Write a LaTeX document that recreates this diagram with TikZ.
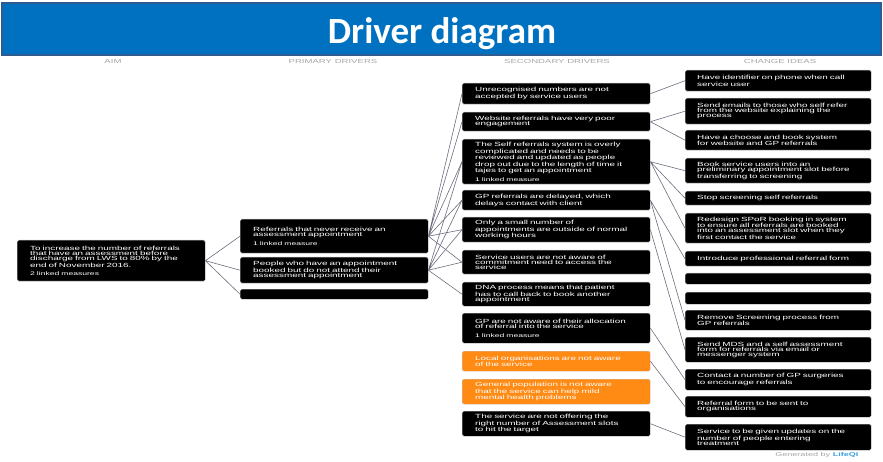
\documentclass[tikz,border=0pt]{standalone}
\usepackage{fontspec}
\newfontfamily\boxfont[FakeStretch=1.65]{Liberation Sans}
\newfontfamily\titlefont{Carlito}
\definecolor{barblue}{HTML}{0070C0}
\definecolor{baredge}{HTML}{2F5C8F}
\definecolor{qiorange}{HTML}{FF8A14}
\definecolor{linkgrey}{HTML}{6C6C7E}
\definecolor{headgrey}{HTML}{A6A6A6}
\definecolor{lqblue}{HTML}{3AA0E0}
\newcommand{\dtxt}{\boxfont\fontsize{6}{5.2}\selectfont}
\newcommand{\msr}{\fontsize{5.2}{5}\selectfont}

\begin{document}
\begin{tikzpicture}[x=1pt,y=-1pt]
\tikzstyle{dbox}=[rectangle, anchor=north west, fill=black, draw=gray!45,
  line width=0.4pt, rounded corners=1.5pt, text=white, font=\dtxt,
  align=left, text width=162pt, inner xsep=13pt, inner ysep=1pt]
\tikzstyle{idea}=[dbox, text width=162pt, inner xsep=12pt]
\tikzstyle{warn}=[dbox, fill=qiorange]
\tikzstyle{head}=[anchor=base, font=\boxfont\fontsize{5.8}{6}\selectfont, text=headgrey]
\tikzstyle{link}=[draw=linkgrey, line width=0.6pt]
\useasboundingbox (0,0) rectangle (883,462);
\fill[barblue, draw=baredge, line width=1.2pt] (2,3) rectangle (881,55);
\node[anchor=base, font=\titlefont\bfseries\fontsize{37}{40}\selectfont, text=white] (title) at (442,44) {Driver diagram};
\node[head] (haim) at (113,64) {AIM};
\node[head] (hprim) at (333,64) {PRIMARY DRIVERS};
\node[head] (hsec) at (557,64) {SECONDARY DRIVERS};
\node[head] (hidea) at (780,64) {CHANGE IDEAS};

\node[dbox, minimum height=41pt] (aim) at (17,240) {To increase the number of referrals\\ that have an assessment before\\ discharge from LWS to 80\% by the\\ end of November 2016.\\[3pt] {\msr 2 linked measures}};

\node[dbox, minimum height=34pt] (p1) at (240,219) {Referrals that never receive an\\ assessment appointment\\[3pt] {\msr 1 linked measure}};
\node[dbox, minimum height=26pt] (p2) at (240,257) {People who have an appointment\\ booked but do not attend their\\ assessment appointment};
\node[dbox, minimum height=10pt] (p3) at (240,289) {};

\node[dbox, minimum height=21pt] (s1) at (462,83) {Unrecognised numbers are not\\ accepted by service users};
\node[dbox, minimum height=19pt] (s2) at (462,112) {Website referrals have very poor\\ engagement};
\node[dbox, minimum height=45pt] (s3) at (462,139) {The Self referrals system is overly\\ complicated and needs to be\\ reviewed and updated as people\\ drop out due to the length of time it\\ tajes to get an appointment\\[3pt] {\msr 1 linked measure}};
\node[dbox, minimum height=20pt] (s4) at (462,190) {GP referrals are delayed, which\\ delays contact with client};
\node[dbox, minimum height=25pt] (s5) at (462,217) {Only a small number of\\ appointments are outside of normal\\ working hours};
\node[dbox, minimum height=24pt] (s6) at (462,250) {Service users are not aware of\\ commitment need to access the\\ service};
\node[dbox, minimum height=24pt] (s7) at (462,282) {DNA process means that patient\\ has to call back to book another\\ appointment};
\node[dbox, minimum height=30pt] (s8) at (462,313) {GP are not aware of their allocation\\ of referral into the service\\[3pt] {\msr 1 linked measure}};
\node[warn, minimum height=20pt] (s9) at (462,351) {Local organisations are not aware\\ of the service};
\node[warn, minimum height=25pt] (s10) at (462,379) {General population is not aware\\ that the service can help mild\\ mental health problems};
\node[dbox, minimum height=25pt] (s11) at (462,411) {The service are not offering the\\ right number of Assessment slots\\ to hit the target};

\node[idea, minimum height=21pt] (c1) at (685,70) {Have identifier on phone when call\\ service user};
\node[idea, minimum height=26pt] (c2) at (685,98) {Send emails to those who self refer\\ from the website explaining the\\ process};
\node[idea, minimum height=20pt] (c3) at (685,130) {Have a choose and book system\\ for website and GP referrals};
\node[idea, minimum height=25pt] (c4) at (685,158) {Book service users into an\\ preliminary appointment slot before\\ transferring to screening};
\node[idea, minimum height=14pt] (c5) at (685,191) {Stop screening self referrals};
\node[idea, minimum height=30pt] (c6) at (685,213) {Redesign SPoR booking in system\\ to ensure all referrals are booked\\ into an assessment slot when they\\ first contact the service};
\node[idea, minimum height=15pt] (c7) at (685,251) {Introduce professional referral form};
\node[idea, minimum height=11pt] (c8) at (685,273) {};
\node[idea, minimum height=12pt] (c9) at (685,292) {};
\node[idea, minimum height=20pt] (c10) at (685,310) {Remove Screening process from\\ GP referrals};
\node[idea, minimum height=25pt] (c11) at (685,337) {Send MDS and a self assessment\\ form for referrals via email or\\ messenger system};
\node[idea, minimum height=21pt] (c12) at (685,369) {Contact a number of GP surgeries\\ to encourage referrals};
\node[idea, minimum height=21pt] (c13) at (685,396) {Referral form to be sent to\\ organisations};
\node[idea, minimum height=26pt] (c14) at (685,424) {Service to be given updates on the\\ number of people entering\\ treatment};

\node[anchor=base east, font=\boxfont\fontsize{5.5}{6}\selectfont, text=headgrey] (gen) at (862,456) {Generated by {\color{lqblue}\bfseries LifeQI}};

\draw[link] (aim.east) -- (p1.west) (aim.east) -- (p2.west) (aim.east) -- (p3.west);
\draw[link] (p1.east) -- (s1.west) (p1.east) -- (s2.west) (p1.east) -- (s3.west)
  (p1.east) -- (s4.west) (p1.east) -- (s5.west) (p1.east) -- (s6.west);
\draw[link] (p2.east) -- (s3.west) (p2.east) -- (s4.west) (p2.east) -- (s5.west)
  (p2.east) -- (s6.west) (p2.east) -- (s7.west);
\draw[link] (s1.east) -- (c1.west);
\draw[link] (s2.east) -- (c2.west) (s2.east) -- (c3.west);
\draw[link] (s3.east) -- (c4.west) (s3.east) -- (c5.west) (s3.east) -- (c6.west);
\draw[link] (s4.east) -- (c7.west) (s4.east) -- (c10.west) (s5.east) -- (c11.west);
\draw[link] (s8.east) -- (c12.west) (s9.east) -- (c13.west) (s11.east) -- (c14.west);
\end{tikzpicture}
\end{document}
